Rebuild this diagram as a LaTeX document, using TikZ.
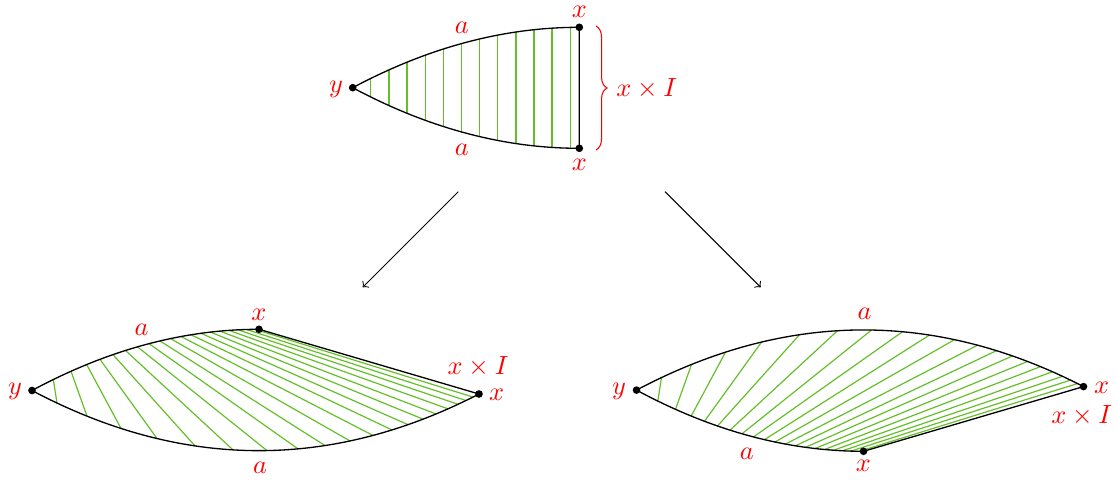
\documentclass[tikz,border=0pt]{standalone}
\usetikzlibrary{decorations.pathreplacing}
\definecolor{hatchgreen}{RGB}{100,190,40}
\tikzset{
  curve/.style={line width=0.5pt, black},
  hatch/.style={line width=0.45pt, hatchgreen},
  vhatch/.style={line width=0.5pt, hatchgreen},
  lbl/.style={text=red, inner sep=0pt},
  arr/.style={->, line width=0.4pt, black},
}
\newcommand\lensbody[1]{%
  \coordinate (#1y) at (32,390.5);
  \coordinate (#1t) at (259,329.3);
  \coordinate (#1r) at (479,394);
  \foreach \xa/\xb in {53.3/57, 71/87, 86.7/121, 100/157, 113/195, 125.5/233,
      137.5/267, 149/298, 160/325, 170.5/350, 181/373, 191/392, 201/408,
      210.5/423, 220/436, 229/448, 238/458, 246.5/466, 255/473} {
    \pgfmathsetmacro\ta{(\xa-32)/227}
    \pgfmathsetmacro\ya{390.5-61.2*\ta*(2-\ta)}
    \pgfmathsetmacro\ub{(\xb-32)/447}
    \pgfmathsetmacro\yb{(1-\ub)*(1-\ub)*390.5+2*\ub*(1-\ub)*509+\ub*\ub*394}
    \draw[hatch] (\xa,\ya) -- (\xb,\yb);
  }
  \draw[curve] (#1y) .. controls (107.67,349.7) and (183.33,329.3) .. (#1t) -- (#1r);
  \draw[curve] (#1y) .. controls (181,469.5) and (330,470.7) .. (#1r);
  \foreach \p in {y,t,r} \fill (#1\p) circle[radius=1.45pt];
}
\begin{document}
\begin{tikzpicture}[x=0.38pt,y=-0.38pt]
\useasboundingbox (0,0) rectangle (1117,480);

% top diagram
\coordinate (Y0) at (352.7,87.7);
\coordinate (T0) at (579.3,27.3);
\coordinate (B0) at (579.3,148.3);
\foreach \k in {1,...,12} {
  \pgfmathsetmacro\tt{0.08*\k}
  \pgfmathsetmacro\xx{352.7+226.6*\tt}
  \pgfmathsetmacro\yu{87.7-60.4*\tt*(2-\tt)}
  \pgfmathsetmacro\yl{87.7+60.6*\tt*(2-\tt)}
  \draw[vhatch] (\xx,\yu) -- (\xx,\yl);
}
\draw[curve] (Y0) .. controls (428.2,47.4) and (503.7,27.3) .. (T0) -- (B0);
\draw[curve] (Y0) .. controls (428.2,128.1) and (503.7,148.3) .. (B0);
\foreach \p in {Y0,T0,B0} \fill (\p) circle[radius=1.45pt];
\coordinate (bt) at (596,26);
\coordinate (bb) at (596,150);
\draw[red, line width=0.4pt, decorate, decoration={brace, amplitude=4.2pt}] (bt) -- (bb);

\node[lbl] (ly0) at (336,89) {$y$};
\node[lbl] (la0) at (461.7,27.5) {$a$};
\node[lbl] (lb0) at (461.7,150) {$a$};
\node[lbl] (lx0) at (579.3,11.5) {$x$};
\node[lbl] (lz0) at (579.3,165) {$x$};
\node[lbl] (li0) at (646.7,89) {$x\times I$};

% arrows
\coordinate (a1s) at (458.3,191.7);
\coordinate (a1e) at (362.7,287.3);
\coordinate (a2s) at (665,191.7);
\coordinate (a2e) at (760.7,287.3);
\draw[arr] (a1s) -- (a1e);
\draw[arr] (a2s) -- (a2e);

% bottom left
\begin{scope}
  \lensbody{L}
\end{scope}
\node[lbl] (lyL) at (15,391) {$y$};
\node[lbl] (laL) at (141.7,330) {$a$};
\node[lbl] (lxL) at (259,314.5) {$x$};
\node[lbl] (liL) at (478,367) {$x\times I$};
\node[lbl] (lrL) at (496.7,394.5) {$x$};
\node[lbl] (lbL) at (260,468) {$a$};

% bottom right (mirror image)
\begin{scope}[shift={(604.5,780.6)}, yscale=-1]
  \lensbody{R}
\end{scope}
\node[lbl] (lyR) at (619,391) {$y$};
\node[lbl] (laR) at (864.5,313.5) {$a$};
\node[lbl] (lrR) at (1101.7,388) {$x$};
\node[lbl] (liR) at (1081.7,416) {$x\times I$};
\node[lbl] (lbR) at (746.7,453.5) {$a$};
\node[lbl] (lxR) at (863.5,466) {$x$};
\end{tikzpicture}
\end{document}
